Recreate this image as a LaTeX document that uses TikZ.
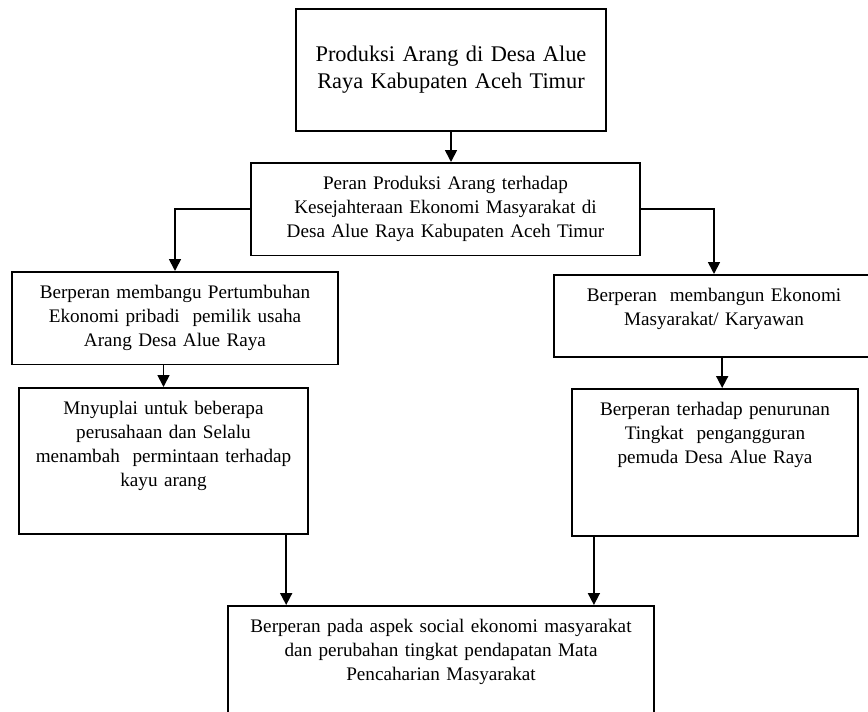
\documentclass[tikz,border=0pt]{standalone}
\usepackage{fontspec}
\setmainfont{Liberation Serif}
\usetikzlibrary{arrows.meta}

\tikzset{
  box/.style={draw, line width=1.1pt, anchor=north, align=center, inner xsep=0.1cm, inner ysep=0.3cm,
    font=\fontsize{12}{15}\selectfont},
  arr/.style={line width=1.1pt, -{Triangle[width=7.5pt,length=7.5pt]}}
}

\begin{document}
\begin{tikzpicture}[x=0.022cm, y=-0.022cm]
  \useasboundingbox (0,0) rectangle (868,712);
      \node[box, text width=6.62cm, minimum height=2.68cm, font=\fontsize{14}{17}\selectfont] (A) at (451,8)
        {Produksi Arang di Desa Alue\\Raya Kabupaten Aceh Timur};
      \node[box, text width=8.36cm, minimum height=1.98cm] (B) at (445.5,162)
        {Peran Produksi Arang terhadap\\Kesejahteraan Ekonomi Masyarakat di\\Desa Alue Raya Kabupaten Aceh Timur};
      \node[box, text width=6.97cm, minimum height=1.85cm] (C) at (175,271)
        {Berperan membangu Pertumbuhan\\Ekonomi pribadi~ pemilik usaha\\Arang Desa Alue Raya};
      \node[box, text width=6.84cm, text depth=0.91cm] (D) at (714,274)
        {Berperan~ membangun Ekonomi\\Masyarakat/ Karyawan};
      \node[box, text width=6.16cm, text depth=2.32cm] (E) at (163.5,387)
        {Mnyuplai untuk beberapa\\perusahaan dan Selalu\\menambah~ permintaan terhadap\\kayu arang};
      \node[box, text width=6.09cm, text depth=2.34cm] (F) at (715,388)
        {Berperan terhadap penurunan\\Tingkat~ pengangguran\\pemuda Desa Alue Raya};
      \node[box, text width=9.17cm, text depth=2.2cm] (G) at (441,605)
        {Berperan pada aspek social ekonomi masyarakat\\dan perubahan tingkat pendapatan Mata\\Pencaharian Masyarakat};
        % Connectors
      \draw[arr] (A.south) -- (A.south |- B.north);
      \draw[arr] (B.west) -| (C.north);
      \draw[arr] (B.east) -| (D.north);
      \draw[arr] (C.south -| E.north) -- (E.north);
      \draw[arr] ([xshift=0.18cm]D.south) -- ([xshift=0.18cm]D.south |- F.north);
      \draw[arr] ([xshift=-0.5cm]E.south east) -- ([xshift=-0.5cm]E.south east |- G.north);
      \draw[arr] ([xshift=0.5cm]F.south west) -- ([xshift=0.5cm]F.south west |- G.north);
    \end{tikzpicture}
\end{document}
